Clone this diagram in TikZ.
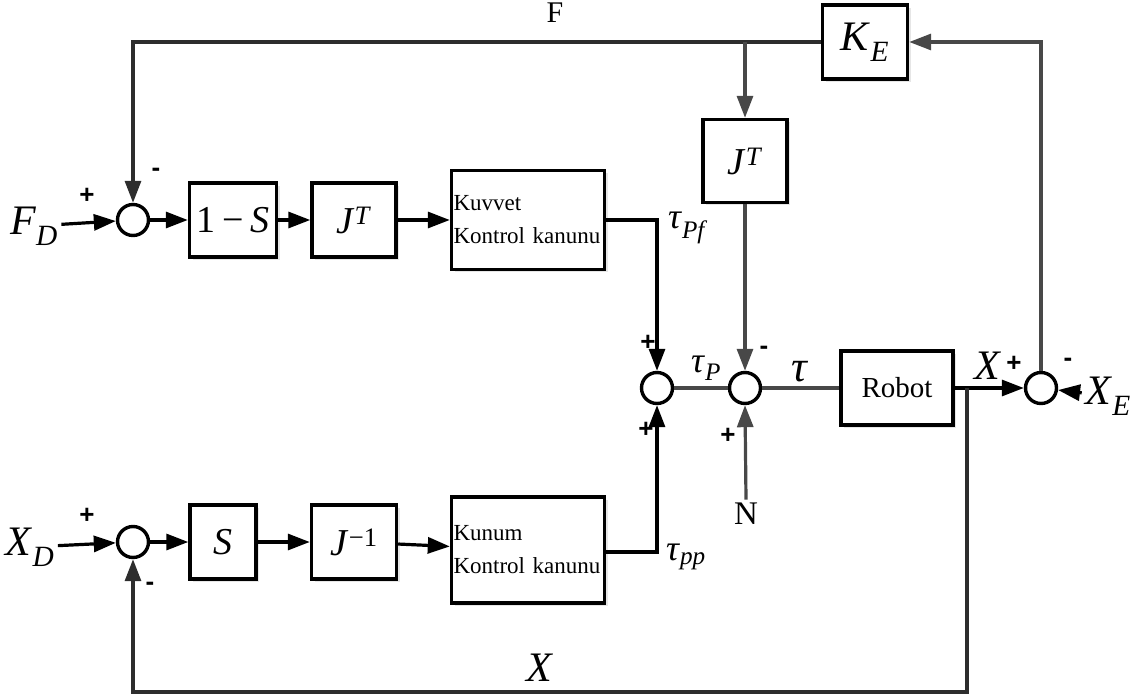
\documentclass[tikz,border=0pt]{standalone}
\usepackage{fontspec}
\setmainfont{Liberation Serif}
\newfontfamily\signfont{Liberation Sans}
\usetikzlibrary{arrows.meta, shadows}
\definecolor{lineg}{RGB}{72,72,72}
\definecolor{lined}{RGB}{45,45,45}

\begin{document}
\begin{tikzpicture}[x=1pt, y=-1pt, >={Triangle[length=22pt, width=16pt]}]
    \tikzset{
        blk/.style={draw, line width=3.4pt, fill=white, inner sep=2pt,
            drop shadow={opacity=0.2, shadow xshift=3pt, shadow yshift=-3pt}},
        sumc/.style={draw, circle, line width=3.4pt, fill=white, minimum size=31pt, inner sep=0pt},
        fwd/.style={line width=3.2pt, ->},
        fbk/.style={line width=3.2pt, draw=lineg, ->},
        plain/.style={line width=3.2pt, draw=lineg},
        mathbig/.style={font=\fontsize{38}{38}\selectfont},
        lab/.style={font=\fontsize{42}{42}\selectfont},
        sgn/.style={font=\signfont\bfseries\fontsize{26}{26}\selectfont},
        ctrl/.style={font=\fontsize{23}{33}\selectfont, align=left}
    }
    \useasboundingbox (0,0) rectangle (1139,700);

    % Force branch (top row)
    \node[lab] (FD) at (34,226) {\textit{F}\textsubscript{\textit{D}}};
    \node[sumc] (sumF) at (133,220) {};
    \node[blk, mathbig, minimum width=87pt, minimum height=74pt] (oneS) at (233,220) {1\,−\,\textit{S}};
    \node[blk, mathbig, minimum width=84pt, minimum height=74pt] (JTa) at (354,220) {\textit{J}\textsuperscript{\textit{T}}};
    \node[blk, ctrl, minimum width=153pt, minimum height=99pt, text width=149pt, inner sep=0pt] (kuvvet) at (528,220) {Kuvvet\\Kontrol kanunu};

    % Position branch (bottom row)
    \node[lab] (XD) at (30,547) {\textit{X}\textsubscript{\textit{D}}};
    \node[sumc] (sumX2) at (133,542) {};
    \node[blk, mathbig, minimum width=66pt, minimum height=74pt] (Sblk) at (223,542) {\textit{S}};
    \node[blk, mathbig, minimum width=85pt, minimum height=74pt] (Jinv) at (354,542) {\textit{J}\textsuperscript{−1}};
    \node[blk, ctrl, minimum width=153pt, minimum height=106pt, text width=149pt, inner sep=0pt] (kunum) at (528,550) {Kunum\\Kontrol kanunu};

    % Middle row
    \node[sumc] (sumP) at (657,388) {};
    \node[sumc] (sumT) at (745,388) {};
    \node[blk, font=\fontsize{29}{29}\selectfont, minimum width=112pt, minimum height=74pt] (robot) at (897,388) {Robot};
    \node[sumc] (sumX) at (1041,388) {};
    \node[lab] (XE) at (1108,396) {\textit{X}\textsubscript{\textit{E}}};
    \node[blk, mathbig, minimum width=84pt, minimum height=83pt] (JTb) at (745,161) {\textit{J}\textsuperscript{\textit{T}}};
    \node[blk, font=\fontsize{42}{42}\selectfont, minimum width=85pt, minimum height=74pt] (KE) at (865,42) {\textit{K}\textsubscript{\textit{E}}};
    \node[font=\fontsize{33}{33}\selectfont] (N) at (746,514) {N};

    % Branch points
    \coordinate (brF) at (745,42);
    \coordinate (brX) at (967,388);
    \coordinate (brB) at (967,692);

    % Forward paths
    \draw[fwd] (FD) -- (sumF);
    \draw[fwd] (sumF) -- (oneS);
    \draw[fwd] (oneS) -- (JTa);
    \draw[fwd] (JTa) -- (kuvvet);
    \draw[fwd] (kuvvet.east) -| (sumP.north);
    \draw[fwd] (XD) -- (sumX2);
    \draw[fwd] (sumX2) -- (Sblk);
    \draw[fwd] (Sblk) -- (Jinv);
    \draw[fwd] (Jinv) -- (kunum);
    \draw[fwd] (kunum.east |- 0,552) -| (sumP.south);
    \draw[plain] (sumP) -- (sumT);
    \draw[plain] (sumT) -- (robot);
    \draw[fwd] (robot) -- (sumX);
    \draw[fwd] (XE) -- (sumX);

    % Feedback paths
    \draw[fbk] (sumX.north) |- (KE.east);
    \draw[line width=3.2pt, draw=lined, ->] (KE.west) -| (sumF.north);
    \draw[fbk] (brF) -- (JTb.north);
    \draw[fbk] (JTb.south) -- (sumT.north);
    \draw[fbk] (N.north) -- (sumT.south);
    \draw[line width=3.2pt, draw=lined, ->] (brX) -- (brB) -| (sumX2.south);

    % Signal labels
    \node[font=\fontsize{30}{30}\selectfont] at (555,13) {F};
    \node[lab] at (540,668) {\textit{X}};
    \node[lab] at (988,366) {\textit{X}};
    \node[font=\fontsize{44}{44}\selectfont] at (800,372) {\textit{τ}};
    \node[font=\fontsize{36}{36}\selectfont] at (706,368) {\textit{τ}\textsubscript{\textit{P}}};
    \node[font=\fontsize{36}{36}\selectfont] at (688,228) {\textit{τ}\textsubscript{\textit{Pf}}};
    \node[font=\fontsize{36}{36}\selectfont] at (686,557) {\textit{τ}\textsubscript{\textit{pp}}};

    % Signs
    \node[sgn] at (87,196) {+};
    \node[sgn] at (156,172) {-};
    \node[sgn] at (87,516) {+};
    \node[sgn] at (150,586) {-};
    \node[sgn] at (648,343) {+};
    \node[sgn] at (646,430) {+};
    \node[sgn] at (764,350) {-};
    \node[sgn] at (728,436) {+};
    \node[sgn] at (1014,364) {+};
    \node[sgn] at (1068,362) {-};
\end{tikzpicture}
\end{document}
